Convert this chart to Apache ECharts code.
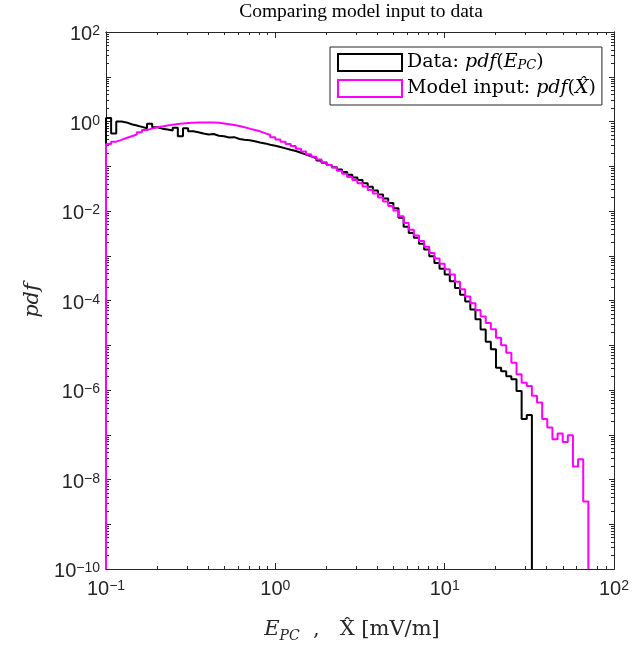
<!DOCTYPE html>
<html><head><meta charset="utf-8">
<script src="https://cdn.jsdelivr.net/npm/echarts@6/dist/echarts.min.js"></script>
<style>html,body{margin:0;padding:0;background:#fff}#c{width:633px;height:648px}</style>
</head><body><div id="c"></div>
<script>
// ---- histogram bin definition (log-spaced bins from 10^-1 to 10^2) ----
const binLog10Min = -1;
const binLog10Max = 2;
const binCount = 99;

// ---- series values (pdf per bin) ----
const dataPdf = [
  1.19, 0.537, 1.00, 0.955, 0.871, 0.813, 0.759, 0.708, 0.891, 0.741,
  0.692, 0.661, 0.631, 0.724, 0.468, 0.708, 0.603, 0.575, 0.537, 0.513,
  0.525, 0.479, 0.468, 0.437, 0.447, 0.407, 0.389, 0.380, 0.363, 0.339,
  0.324, 0.302, 0.288, 0.269, 0.251, 0.234, 0.219, 0.200, 0.182, 0.166,
  0.151, 0.135, 0.120, 0.107, 0.0955, 0.0851, 0.0741, 0.0646, 0.0562, 0.0490,
  0.0417, 0.0347, 0.0288, 0.0234, 0.0191, 0.0151, 0.0115, 0.00708, 0.00447, 0.00324,
  0.00251, 0.00186, 0.00138, 9.77e-4, 6.92e-4, 5.13e-4, 3.80e-4, 2.69e-4, 1.91e-4, 1.35e-4,
  9.55e-5, 6.31e-5, 3.80e-5, 2.24e-5, 1.20e-5, 8.13e-6, 3.16e-6, 2.63e-6, 2.04e-6, 1.74e-6,
  9.55e-7, 2.24e-7, 2.75e-7
];
const modelPdf = [
  0.316, 0.355, 0.389, 0.427, 0.468, 0.513, 0.575, 0.646, 0.692, 0.741,
  0.776, 0.813, 0.851, 0.881, 0.902, 0.923, 0.938, 0.951, 0.955, 0.955,
  0.955, 0.933, 0.902, 0.871, 0.832, 0.794, 0.741, 0.692, 0.646, 0.603,
  0.550, 0.501, 0.447, 0.398, 0.355, 0.316, 0.282, 0.245, 0.214, 0.186,
  0.162, 0.141, 0.123, 0.107, 0.0933, 0.0794, 0.0676, 0.0575, 0.0490, 0.0417,
  0.0355, 0.0295, 0.0245, 0.0200, 0.0162, 0.0129, 0.0102, 0.00759, 0.00537, 0.00380,
  0.00282, 0.00214, 0.00158, 0.00115, 8.71e-4, 6.61e-4, 5.01e-4, 3.80e-4, 2.63e-4, 1.78e-4,
  1.23e-4, 8.71e-5, 6.17e-5, 4.37e-5, 3.16e-5, 2.29e-5, 1.48e-5, 1.00e-5, 6.76e-6, 4.07e-6,
  2.24e-6, 1.45e-6, 1.23e-6, 7.41e-7, 5.25e-7, 2.24e-7, 1.45e-7, 7.94e-8, 1.07e-7, 6.92e-8,
  9.77e-8, 1.95e-8, 2.82e-8, 3.24e-9
];

// ---- axes / tick labels ----
const xMin = 0.1, xMax = 100;
const yMin = 1e-10, yMax = 1e2;
const xLabelValues = [0.1, 1, 10, 100];
const yLabelValues = [1e-10, 1e-8, 1e-6, 1e-4, 1e-2, 1, 1e2];
const yMajorTickValues = [1e-10, 1e-9, 1e-8, 1e-7, 1e-6, 1e-5, 1e-4, 1e-3, 1e-2, 1e-1, 1, 1e1, 1e2];
const minorMultipliers = [2, 3, 4, 5, 6, 7, 8, 9];

const titleText = 'Comparing model input to data';
const seriesNames = ['Data', 'Model input'];

// ---- build ----
const edges = [];
for (let i = 0; i <= binCount; i++) edges.push(Math.pow(10, binLog10Min + (binLog10Max - binLog10Min) * i / binCount));

function histPoints(vals) {
  const pts = [[edges[0], yMin]];
  vals.forEach((v, i) => pts.push([edges[i], v]));
  const n = vals.length;
  pts.push([edges[n], vals[n - 1]]);
  pts.push([edges[n], yMin]);
  return pts;
}
function minorTicks(lo, hi) {
  const out = [];
  for (let e = Math.round(Math.log10(lo)); e < Math.round(Math.log10(hi)); e++) {
    minorMultipliers.forEach(m => out.push(+(m * Math.pow(10, e)).toPrecision(3)));
  }
  return out;
}
const xMinor = minorTicks(xMin, xMax);
const yMinor = minorTicks(yMin, yMax);

const axisColor = '#262626';
const tickRich = {
  b: { fontFamily: 'Liberation Sans', fontSize: 20, lineHeight: 20, verticalAlign: 'bottom', color: axisColor },
  s: { fontFamily: 'Liberation Sans', fontSize: 14, lineHeight: 14, verticalAlign: 'top', padding: [0, 0, 9, 0], color: axisColor }
};
function powLabel(v) {
  const e = Math.round(Math.log10(v));
  return '{b|10}{s|' + String(e).replace('-', '\u2212') + '}';
}

function makeAxis(kind, pos, ticks, len, labels, extra) {
  const isX = kind === 'x';
  const a = {
    type: 'log', logBase: 10,
    min: isX ? xMin : yMin, max: isX ? xMax : yMax,
    position: pos,
    axisLine: { show: true, onZero: false, lineStyle: { color: axisColor, width: 1 } },
    axisTick: { show: true, inside: true, length: len, customValues: ticks, lineStyle: { color: axisColor, width: 1 } },
    axisLabel: { show: !!labels },
    splitLine: { show: false },
    minorTick: { show: false },
    minorSplitLine: { show: false }
  };
  if (labels) {
    a.axisLabel = Object.assign({
      show: true, customValues: labels, formatter: powLabel, rich: tickRich, color: axisColor
    }, extra || {});
  }
  return a;
}

const xAxes = [
  Object.assign(makeAxis('x', 'bottom', xLabelValues, 6, xLabelValues, { margin: 10 }), {
    name: '{i|E}{sub|PC}{r|  ,   }{r|X\u0302}{r| [mV/m]}',
    nameLocation: 'middle', nameGap: 48,
    nameTextStyle: {
      padding: [0, 16, 0, 0],
      rich: {
        i: { fontFamily: 'DejaVu Serif', fontStyle: 'italic', fontSize: 21, lineHeight: 26, color: axisColor },
        r: { fontFamily: 'DejaVu Serif', fontSize: 21, lineHeight: 26, color: axisColor },
        sub: { fontFamily: 'DejaVu Serif', fontStyle: 'italic', fontSize: 14, lineHeight: 18, verticalAlign: 'bottom', color: axisColor }
      }
    }
  }),
  makeAxis('x', 'bottom', xMinor, 3, null),
  makeAxis('x', 'top', xLabelValues, 6, null),
  makeAxis('x', 'top', xMinor, 3, null)
];
const yAxes = [
  Object.assign(makeAxis('y', 'left', yMajorTickValues, 5, yLabelValues, { margin: 6, padding: [5, 0, 0, 0] }), {
    name: 'pdf', nameLocation: 'middle', nameGap: 62, nameRotate: 90,
    nameTextStyle: { fontFamily: 'DejaVu Serif', fontStyle: 'italic', fontSize: 21, color: axisColor }
  }),
  makeAxis('y', 'left', yMinor, 3, null),
  makeAxis('y', 'right', yMajorTickValues, 5, null),
  makeAxis('y', 'right', yMinor, 3, null)
];

const legendRich = {
  r: { fontFamily: 'DejaVu Serif', fontSize: 19, lineHeight: 19, color: '#000' },
  i: { fontFamily: 'DejaVu Serif', fontStyle: 'italic', fontSize: 19, lineHeight: 19, color: '#000' },
  sub: { fontFamily: 'DejaVu Serif', fontStyle: 'italic', fontSize: 13, lineHeight: 12, verticalAlign: 'bottom', color: '#000' }
};
const legendText = {
  'Data': '{r|Data: }{i|pdf}{r|(}{i|E}{sub|PC}{r|)}',
  'Model input': '{r|Model input: }{i|pdf}{r|(}{i|X\u0302}{r|)}'
};

const chart = echarts.init(document.getElementById('c'), null, { renderer: 'canvas' });
chart.setOption({
  animation: false,
  backgroundColor: '#fff',
  grid: { left: 106, right: 19, top: 32, bottom: 78, containLabel: false },
  xAxis: xAxes,
  yAxis: yAxes,
  graphic: [{
    type: 'text', x: 361, y: 12,
    style: { text: titleText, align: 'center', verticalAlign: 'middle', fontFamily: 'Liberation Serif', fontSize: 19.5, fill: '#000' }
  }],
  legend: {
    orient: 'vertical', left: 330, top: 47,
    itemWidth: 64, itemHeight: 17, itemGap: 7,
    padding: [6, 6, 7, 7],
    backgroundColor: '#fff', borderColor: axisColor, borderWidth: 1, borderRadius: 0,
    selectedMode: false,
    data: [
      { name: seriesNames[0], icon: 'rect', itemStyle: { color: '#fff', borderColor: '#000', borderWidth: 2 } },
      { name: seriesNames[1], icon: 'rect', itemStyle: { color: '#fff', borderColor: '#ff00ff', borderWidth: 2 } }
    ],
    formatter: name => legendText[name],
    textStyle: { rich: legendRich }
  },
  series: [
    {
      name: seriesNames[0], type: 'line', step: 'end', showSymbol: false, symbol: 'none',
      xAxisIndex: 0, yAxisIndex: 0,
      lineStyle: { color: '#000', width: 2 }, itemStyle: { color: '#000' },
      data: histPoints(dataPdf)
    },
    {
      name: seriesNames[1], type: 'line', step: 'end', showSymbol: false, symbol: 'none',
      xAxisIndex: 0, yAxisIndex: 0,
      lineStyle: { color: '#ff00ff', width: 2 }, itemStyle: { color: '#ff00ff' },
      data: histPoints(modelPdf)
    }
  ]
});
</script>
</body></html>
